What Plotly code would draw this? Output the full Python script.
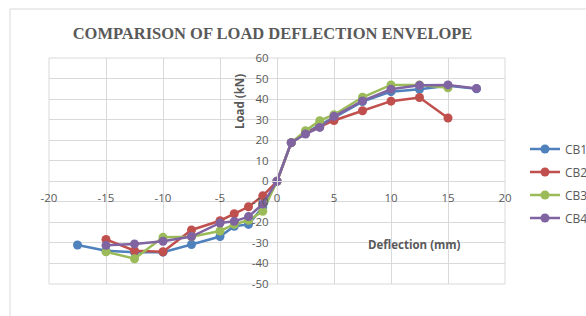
import plotly.graph_objects as go

# ---- data ----
deflection = [-17.5, -15, -12.5, -10, -7.5, -5, -3.75, -2.5, -1.25, 0,
              1.25, 2.5, 3.75, 5, 7.5, 10, 12.5, 15, 17.5]
cb1_load = [-31, -33.8, -34.5, -34.5, -30.8, -26.9, -21.9, -21, -12.5, 0,
            18.8, 23.5, 27.5, 31, 38.8, 43.6, 44.8, 46.5, 45]
cb2_load = [None, -28.3, -33.8, -34.3, -23.7, -19.2, -15.8, -12.4, -7.1, 0,
            18.8, 23.5, 26.5, 29.6, 34.3, 39, 40.8, 30.8, None]
cb3_load = [None, -34.3, -37.7, -27.3, -27, -24.2, -21, -19, -14.6, 0,
            18.8, 24.6, 29.5, 32.4, 40.9, 46.9, 46.9, 45.5, None]
cb4_load = [None, -31.2, -30.5, -29.2, -26.9, -20.3, -19.5, -17.2, -11.1, 0,
            18.8, 23, 26.2, 31.6, 39.1, 44.8, 46.7, 46.9, 45.2]

series_names = ["CB1", "CB2", "CB3", "CB4"]
series_values = [cb1_load, cb2_load, cb3_load, cb4_load]
series_colors = ["#4F81BD", "#C0504D", "#9BBB59", "#8064A2"]

x_ticks = [-20, -15, -10, -5, 0, 5, 10, 15, 20]
y_ticks = [-50, -40, -30, -20, -10, 0, 10, 20, 30, 40, 50, 60]

# ---- figure ----
W, H = 586, 316
L, R, T, B = 49, 505, 58, 284  # plot area pixel bounds

fig = go.Figure()
for name, vals, col in zip(series_names, series_values, series_colors):
    fig.add_trace(go.Scatter(
        x=deflection, y=vals, name=name, mode="lines+markers",
        connectgaps=False, legendgroup=name,
        line=dict(color=col, width=2.5),
        marker=dict(color=col, size=9, symbol="circle"),
    ))

xmin, xmax = -20, 20
ymin, ymax = -50, 60
tick_font = dict(family="Open Sans, Liberation Sans, sans-serif", size=11.5, color="#595959")
grid = "#D9D9D9"

fig.update_layout(
    width=W, height=H,
    margin=dict(l=L, r=W - R, t=T, b=H - B, pad=0, autoexpand=False),
    paper_bgcolor="white", plot_bgcolor="white",
    showlegend=True,
    legend=dict(xref="container", yref="container", x=525 / W, y=1 - 134.5 / H,
                xanchor="left", yanchor="top",
                font=dict(family="Open Sans, Liberation Sans, sans-serif", size=12, color="#595959"),
                bgcolor="rgba(0,0,0,0)", itemwidth=30, tracegroupgap=4),
    xaxis=dict(range=[xmin, xmax], tickvals=x_ticks, ticktext=[str(v) for v in x_ticks],
               showgrid=True, gridcolor=grid, gridwidth=1, zeroline=False,
               showline=True, linecolor=grid, linewidth=1,
               anchor="free", position=(0 - ymin) / (ymax - ymin),
               ticks="", tickfont=tick_font, ticklabelstandoff=6, automargin=False),
    yaxis=dict(range=[ymin, ymax], tickvals=y_ticks, ticktext=[str(v) for v in y_ticks],
               showgrid=True, gridcolor=grid, gridwidth=1, zeroline=False,
               showline=True, linecolor=grid, linewidth=1,
               anchor="free", position=(0 - xmin) / (xmax - xmin),
               ticks="", tickfont=tick_font, ticklabelstandoff=6, automargin=False),
    title=dict(text="COMPARISON OF LOAD DEFLECTION ENVELOPE",
               font=dict(family="Liberation Serif, DejaVu Serif, serif", size=16.5, color="#595959",
                         weight="bold"),
               xref="container", x=272.5 / W, xanchor="center",
               yref="container", y=1 - 33 / H, yanchor="middle", automargin=False),
)

# plot-area box
fig.add_shape(type="rect", xref="paper", yref="paper", x0=0, x1=1, y0=0, y1=1,
              line=dict(color=grid, width=1), layer="below")

# chart-area border (extends past the visible window to the right/bottom)
fig.add_shape(type="rect", xref="paper", yref="paper",
              x0=(10 - L) / (R - L), x1=(700 - L) / (R - L),
              y0=1 - (400 - T) / (B - T), y1=1 + (T - 9) / (B - T),
              line=dict(color="#D9D9D9", width=1), fillcolor="rgba(0,0,0,0)")

label_font = dict(family="Open Sans, Liberation Sans, sans-serif", size=11.5, color="#595959", weight="bold")
fig.add_annotation(text="Load (kN)", textangle=-90, font=label_font, showarrow=False,
                   xref="paper", yref="paper",
                   x=(239 - L) / (R - L), y=1 - (102 - T) / (B - T),
                   xanchor="center", yanchor="middle")
fig.add_annotation(text="Deflection (mm)", font=label_font, showarrow=False,
                   xref="paper", yref="paper",
                   x=(414 - L) / (R - L), y=1 - (244 - T) / (B - T),
                   xanchor="center", yanchor="middle")

fig.write_html("out.html", config={"displayModeBar": False},
               post_script="document.body.style.margin='0px';")
